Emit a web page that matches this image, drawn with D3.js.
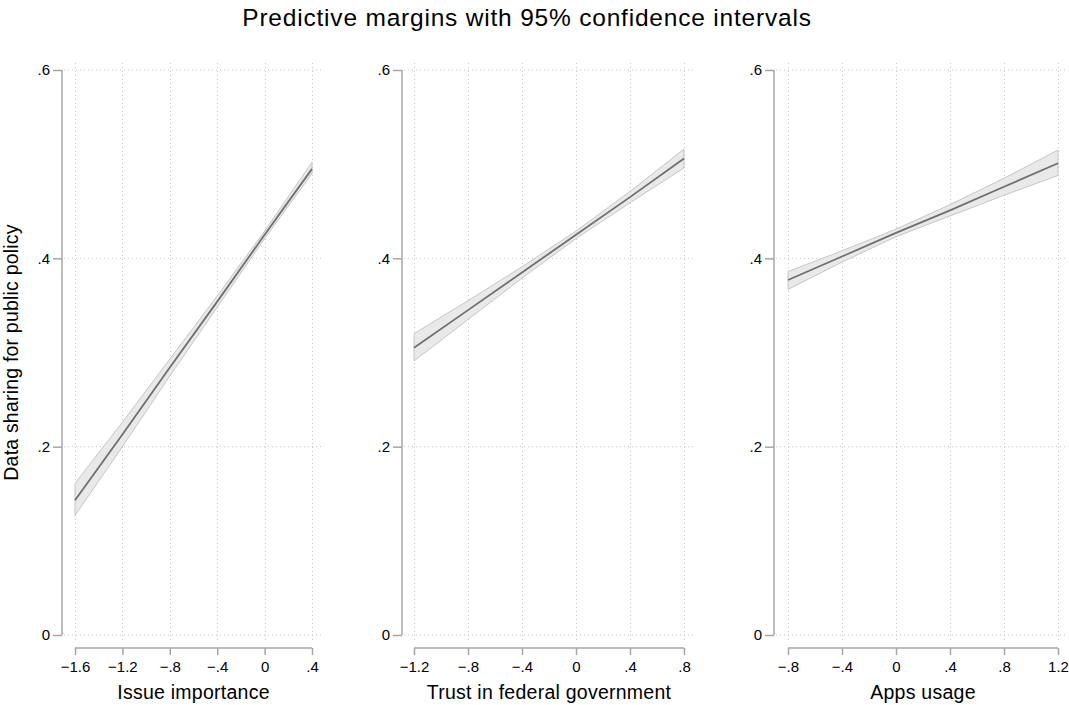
<!DOCTYPE html>
<html>
<head>
<meta charset="utf-8">
<script src="https://cdn.jsdelivr.net/npm/d3@7"></script>
<style>
    body { margin: 0; background: #fff; }
    svg { display: block; font-family: "Liberation Sans", Arial, sans-serif; }
</style>
</head>
<body>
<svg class="chart" width="1069" height="705"></svg>
<script>
"use strict";
(function () {

    const TITLE = "Predictive margins with 95% confidence intervals";
    const Y_TITLE = "Data sharing for public policy";
    const Y_TICKS = [0, 0.2, 0.4, 0.6];

    // panel 1: issue importance
    const issueX = [-1.6, -1.2, -0.8, -0.4, 0, 0.4];
    const issueFit = [0.143, 0.213, 0.284, 0.354, 0.425, 0.495];
    const issueLo = [0.127, 0.200, 0.275, 0.348, 0.421, 0.490];
    const issueHi = [0.161, 0.226, 0.293, 0.360, 0.429, 0.502];

    // panel 2: trust in federal government
    const trustX = [-1.2, -0.8, -0.4, 0, 0.4, 0.8];
    const trustFit = [0.305, 0.345, 0.385, 0.425, 0.465, 0.506];
    const trustLo = [0.291, 0.335, 0.379, 0.421, 0.459, 0.496];
    const trustHi = [0.320, 0.355, 0.391, 0.429, 0.471, 0.516];

    // panel 3: apps usage
    const appsX = [-0.8, -0.4, 0, 0.4, 0.8, 1.2];
    const appsFit = [0.377, 0.402, 0.427, 0.451, 0.476, 0.501];
    const appsLo = [0.367, 0.396, 0.423, 0.445, 0.467, 0.488];
    const appsHi = [0.386, 0.408, 0.431, 0.457, 0.485, 0.515];

    const panels = [
        { label: "Issue importance", x: issueX, fit: issueFit, lo: issueLo, hi: issueHi,
          axisX: 62, left: 75, right: 312, gridRight: 322 },
        { label: "Trust in federal government", x: trustX, fit: trustFit, lo: trustLo, hi: trustHi,
          axisX: 402, left: 414, right: 684, gridRight: 696 },
        { label: "Apps usage", x: appsX, fit: appsFit, lo: appsLo, hi: appsHi,
          axisX: 774, left: 788, right: 1058, gridRight: 1068 }
    ];

    const Y_TOP = 70, Y_BOTTOM = 635, GRID_TOP = 63, GRID_BOTTOM = 642, X_AXIS_Y = 648;
    const AXIS_COLOR = "#a6a6a6";
    const GRID_COLOR = "#c4c4c4";

    // Stata-like labels: ".4", "−.8", "0", "1.2"
    function stataFmt(v) {
        if (Math.abs(v) < 1e-9) return "0";
        let s = d3.format("~g")(Math.abs(v));
        if (s.startsWith("0.")) s = s.slice(1);
        return (v < 0 ? "\u2212" : "") + s;
    }

    const svg = d3.select(".chart");

    svg.append("text")
        .attr("x", 527)
        .attr("y", 26)
        .attr("text-anchor", "middle")
        .attr("font-size", 24.5)
        .attr("letter-spacing", 0.8)
        .attr("fill", "#000")
        .text(TITLE);

    svg.append("text")
        .attr("transform", "translate(18," + ((Y_TOP + Y_BOTTOM) / 2) + ") rotate(-90)")
        .attr("text-anchor", "middle")
        .attr("font-size", 19.5)
        .attr("letter-spacing", 0.2)
        .attr("fill", "#000")
        .text(Y_TITLE);

    const y = d3.scaleLinear().domain([0, 0.6]).range([Y_BOTTOM, Y_TOP]);

    panels.forEach(p => {
        const x = d3.scaleLinear()
            .domain([p.x[0], p.x[p.x.length - 1]])
            .range([p.left, p.right]);
        const g = svg.append("g");
        const rows = p.x.map((v, i) => ({ x: v, fit: p.fit[i], lo: p.lo[i], hi: p.hi[i] }));

        // grid
        g.selectAll(".hgrid")
            .data(Y_TICKS)
            .enter()
            .append("line")
            .attr("x1", p.axisX + 2)
            .attr("x2", p.gridRight)
            .attr("y1", d => y(d))
            .attr("y2", d => y(d))
            .attr("stroke", GRID_COLOR)
            .attr("stroke-width", 1)
            .attr("stroke-dasharray", "1,3");

        g.selectAll(".vgrid")
            .data(p.x)
            .enter()
            .append("line")
            .attr("x1", d => Math.round(x(d)) + 0.5)
            .attr("x2", d => Math.round(x(d)) + 0.5)
            .attr("y1", GRID_TOP)
            .attr("y2", GRID_BOTTOM)
            .attr("stroke", GRID_COLOR)
            .attr("stroke-width", 1)
            .attr("stroke-dasharray", "1,3");

        // confidence band
        g.append("path")
            .datum(rows)
            .attr("d", d3.area().x(d => x(d.x)).y0(d => y(d.lo)).y1(d => y(d.hi)))
            .attr("fill", "#e9e9e9")
            .attr("stroke", "#c6c6c6")
            .attr("stroke-width", 1);

        g.append("path")
            .datum(rows)
            .attr("d", d3.line().x(d => x(d.x)).y(d => y(d.fit)))
            .attr("fill", "none")
            .attr("stroke", "#6f6f6f")
            .attr("stroke-width", 1.8);

        // y axis
        const yAxis = g.append("g")
            .attr("transform", "translate(" + p.axisX + ",0)")
            .call(d3.axisLeft(y).tickValues(Y_TICKS).tickSize(9).tickPadding(3).tickFormat(stataFmt));
        yAxis.select(".domain").attr("d", "M0," + y(0) + "V" + y(0.6));

        // x axis
        const xAxis = g.append("g")
            .attr("transform", "translate(0," + X_AXIS_Y + ")")
            .call(d3.axisBottom(x).tickValues(p.x).tickSize(7).tickPadding(6).tickFormat(stataFmt));
        xAxis.select(".domain").attr("d", "M" + p.left + ",0H" + p.right);

        [yAxis, xAxis].forEach(a => {
            a.attr("font-size", 15).attr("font-family", null);
            a.selectAll(".domain, line").attr("stroke", AXIS_COLOR).attr("stroke-width", 1.5);
            a.selectAll("text").attr("fill", "#000");
        });

        g.append("text")
            .attr("x", (p.left + p.right) / 2)
            .attr("y", 699)
            .attr("text-anchor", "middle")
            .attr("font-size", 19.5)
            .attr("letter-spacing", 0.25)
            .attr("fill", "#000")
            .text(p.label);
    });
})();
</script>
</body>
</html>
